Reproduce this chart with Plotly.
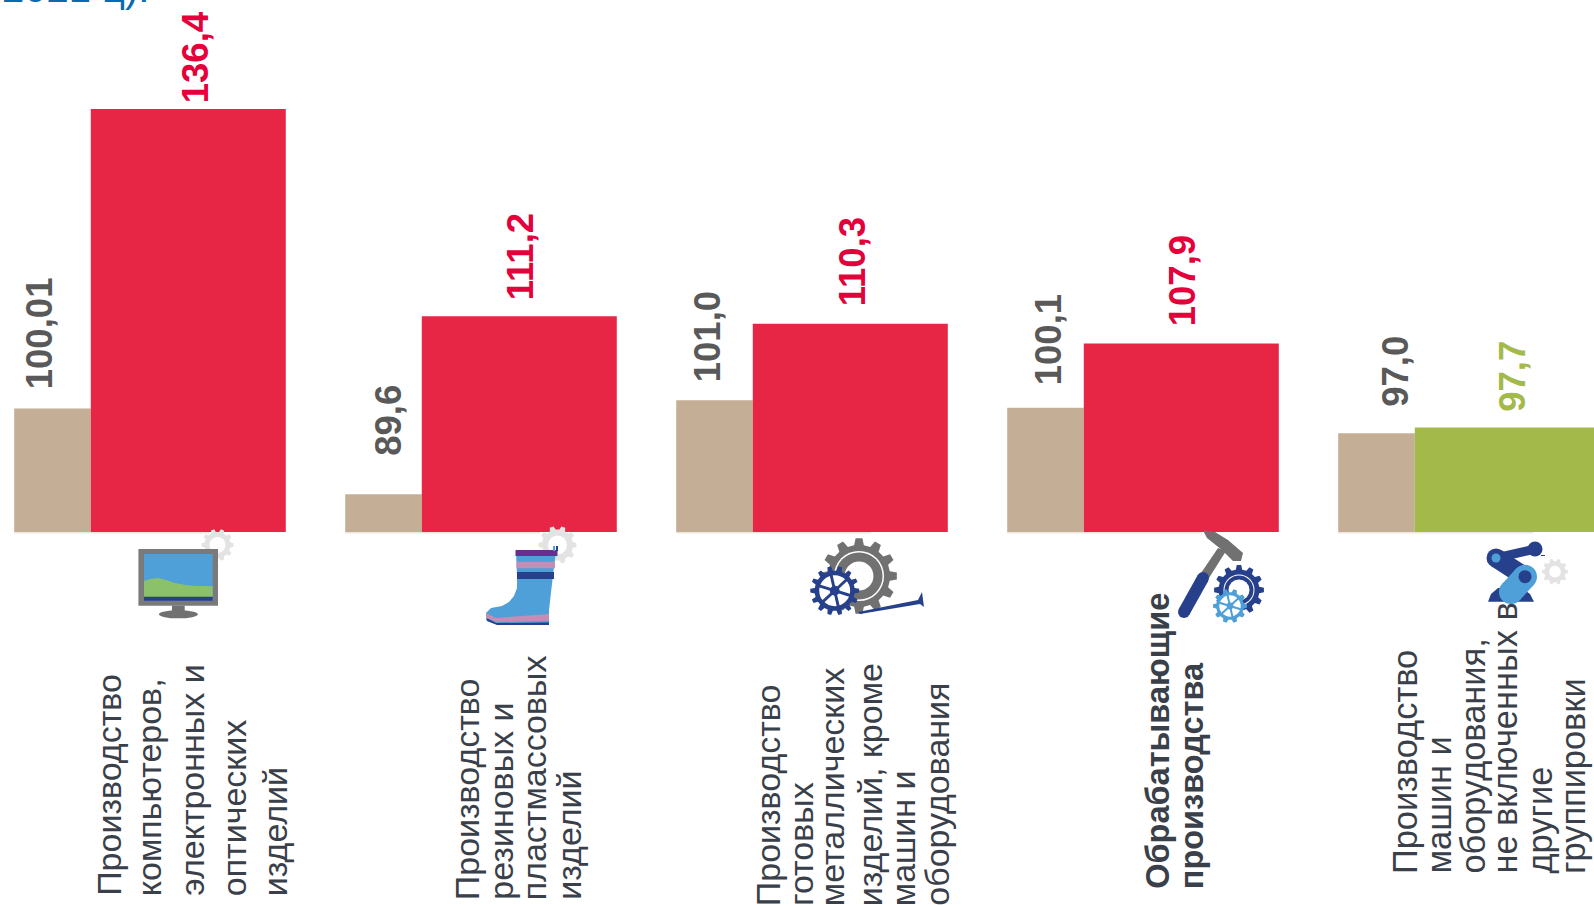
import math
import plotly.graph_objects as go

W, H = 1594, 905
group_index = [0, 1, 2, 3, 4]
prev_values = [100.01, 89.6, 101.0, 100.1, 97.0]
curr_values = [136.4, 111.2, 110.3, 107.9, 97.7]
prev_labels = ["100,01", "89,6", "101,0", "100,1", "97,0"]
curr_labels = ["136,4", "111,2", "110,3", "107,9", "97,7"]
category_lines = [
    ["Производство", "компьютеров,", "электронных и", "оптических", "изделий"],
    ["Производство", "резиновых и", "пластмассовых", "изделий"],
    ["Производство", "готовых", "металлических", "изделий, кроме", "машин и", "оборудования"],
    ["Обрабатывающие", "производства"],
    ["Производство", "машин и", "оборудования,", "не включенных в", "другие", "группировки"],
]

BASE = 85
PERIOD, START = 331.0, 14.2
TAN_W, BAR_W = 76.6, 195.0
Y_SCALE = 8.23
RED, GREEN, TAN = "#E72646", "#A3BA4A", "#C5AE96"
NAVY, SKY, GREY, PALE = "#27408B", "#4F9FD8", "#717171", "#E3E3E3"

curr_colors = [GREEN if v < 100 else RED for v in curr_values]
curr_text = ["#A3BA4A" if v < 100 else "#E4003A" for v in curr_values]


def X(px):
    return px / W


def Y(py):
    return 1 - py / H


def poly(points, fill, curved=False):
    p = "M " + " L ".join(f"{X(a):.5f},{Y(b):.5f}" for a, b in points) + " Z"
    return dict(type="path", xref="paper", yref="paper", path=p, fillcolor=fill,
                line=dict(width=0), layer="above")


def rect(x0, y0, x1, y1, fill):
    return poly([(x0, y0), (x1, y0), (x1, y1), (x0, y1)], fill)


def ellipse(cx, cy, rx, ry, fill):
    return dict(type="circle", xref="paper", yref="paper", x0=X(cx - rx), x1=X(cx + rx),
                y0=Y(cy + ry), y1=Y(cy - ry), fillcolor=fill, line=dict(width=0), layer="above")


def gear(cx, cy, r, teeth, fill, hole=0.45, ring=None, spokes=False):
    pts = []
    for i in range(teeth):
        a = 2 * math.pi * i / teeth
        s = 2 * math.pi / teeth
        for off, rad in [(-0.30, 0.82), (-0.17, 1.0), (0.17, 1.0), (0.30, 0.82)]:
            pts.append((cx + r * rad * math.cos(a + off * s), cy + r * rad * math.sin(a + off * s)))
    out = [poly(pts, fill)]
    if ring:
        out += [ellipse(cx, cy, r * ring, r * ring, "white"), ellipse(cx, cy, r * (ring - .04), r * (ring - .04), fill)]
    out.append(ellipse(cx, cy, r * hole, r * hole, "white"))
    if spokes:
        out.append(ellipse(cx, cy, r * 0.63, r * 0.63, "white"))
        for i in range(6):
            a = math.pi * i / 3 + .3
            dx, dy = math.cos(a), math.sin(a)
            nx, ny = -dy * r * .06, dx * r * .06
            out.append(poly([(cx + nx, cy + ny), (cx + dx * r * .7 + nx, cy + dy * r * .7 + ny),
                             (cx + dx * r * .7 - nx, cy + dy * r * .7 - ny), (cx - nx, cy - ny)], fill))
        out.append(ellipse(cx, cy, r * .2, r * .2, fill))
    return out


def capsule(x0, y0, x1, y1, w, fill):
    d = math.hypot(x1 - x0, y1 - y0)
    nx, ny = -(y1 - y0) / d * w / 2, (x1 - x0) / d * w / 2
    return [poly([(x0 + nx, y0 + ny), (x1 + nx, y1 + ny), (x1 - nx, y1 - ny), (x0 - nx, y0 - ny)], fill),
            ellipse(x0, y0, w / 2, w / 2, fill), ellipse(x1, y1, w / 2, w / 2, fill)]


shapes = []
# faint rule under each group
for i in group_index:
    x0 = START + i * PERIOD
    shapes.append(rect(x0, 532, x0 + 195, 533.5, "#EDE6DE"))

# monitor
shapes += gear(217.5, 545, 16, 10, PALE, hole=.5)
shapes += [rect(138.4, 549, 218, 605.7, "#7A7A7A"), rect(144, 554, 212.7, 600.7, SKY),
           poly([(144, 581), (150, 579), (158, 578), (166, 580), (175, 583), (186, 585), (196, 586),
                 (212.7, 586), (212.7, 597), (144, 597)], "#8BC16B"),
           rect(144, 596.7, 212.7, 600.7, NAVY), rect(172, 605.7, 184.7, 613, GREY),
           ellipse(178.4, 614.3, 19.5, 4, GREY)]

# boot
shapes += gear(557.5, 545, 19, 10, PALE, hole=.5)
shapes += [poly([(516, 551), (517, 575), (517, 588), (514, 596), (509, 602), (502, 606), (491, 608), (486, 613),
                 (486, 620), (495, 624), (549, 624), (549, 610), (553, 575), (556, 551)], SKY),
           poly([(487, 618), (496, 623), (549, 622.5), (549, 625), (497, 625), (487, 621)], NAVY),
           poly([(486, 613), (496, 618), (549, 614), (549, 621), (497, 622), (486, 618)], "#C48DB5"),
           rect(516.5, 561.7, 555, 568.3, "#C48DB5"), rect(517, 572, 554, 579, NAVY),
           rect(515.5, 550, 557.5, 556, "#6A2C91"),
           rect(553, 546, 555, 551, SKY), rect(556, 546, 558, 551, NAVY)]

# gears and wrench
shapes += gear(859, 576, 38, 12, GREY, hole=.38, ring=.66)
shapes += [poly([(858, 612), (918, 600), (922, 592), (924, 607), (920, 604), (860, 614)], NAVY)]
shapes += gear(834.7, 590.7, 24.5, 14, NAVY, hole=.3, spokes=True)

# hammer and gears
shapes += [poly([(1203, 530.5), (1215, 532), (1228, 540), (1243, 553), (1241, 561), (1233, 561), (1222, 550),
                 (1207, 538)], GREY),
           poly([(1218, 548), (1226, 551), (1209, 578), (1199, 576)], GREY)]
shapes += capsule(1203, 578, 1184, 612, 12, NAVY)
shapes += gear(1239, 590, 25, 12, NAVY, hole=.42, ring=.62)
shapes += gear(1230, 606, 17, 10, SKY, hole=.25, spokes=True)

# robot arm
shapes += [poly([(1488, 601.7), (1491, 594), (1498, 588), (1510, 587), (1522, 588), (1530, 594), (1534, 601.7)], NAVY)]
shapes += capsule(1496, 558, 1535, 549, 9, NAVY)
shapes += capsule(1496, 558, 1525, 576.7, 19, NAVY)
shapes += capsule(1511, 592, 1525, 576.7, 24, SKY)
shapes += [ellipse(1535, 549, 7.5, 7.5, NAVY), ellipse(1496, 558, 4.5, 4.5, SKY), ellipse(1525, 576.7, 6.5, 6.5, NAVY),
           rect(1541, 555, 1545, 556, NAVY)]
shapes += gear(1555, 571.7, 13, 10, PALE, hole=.45)

fig = go.Figure()
fig.add_bar(x=group_index, y=[v - BASE for v in prev_values], base=BASE, offset=0,
            width=TAN_W / PERIOD, marker=dict(color=TAN, line=dict(width=0)), showlegend=False)
fig.add_bar(x=group_index, y=[v - BASE for v in curr_values], base=BASE, offset=TAN_W / PERIOD,
            width=BAR_W / PERIOD, marker=dict(color=curr_colors, line=dict(width=0)), showlegend=False)

annotations = []


def rotated(text, baseline_x, bottom_y, size, color, bold=False):
    t = f"<b>{text}</b>" if bold else text
    annotations.append(dict(text=t, textangle=-90, xref="paper", yref="paper",
                            x=X(baseline_x - size * 0.3465), y=Y(bottom_y),
                            xanchor="center", yanchor="bottom", showarrow=False,
                            font=dict(family="Liberation Sans", size=size, color=color)))


VAL = 36.6
prev_pos = [(52, 391), (401, 458), (720, 384), (1062, 387), (1408, 409)]
curr_pos = [(208, 105), (533, 302), (865, 308), (1196, 328), (1525, 414)]
for lab, (x, y) in zip(prev_labels, prev_pos):
    rotated(lab, x, y, VAL, "#595959", True)
for lab, col, (x, y) in zip(curr_labels, curr_text, curr_pos):
    rotated(lab, x, y, VAL, col, True)

cat_style = [
    dict(xs=[120.6, 161, 203, 246, 286.5], bottom=898, size=34, bold=False),
    dict(xs=[479, 512, 545.6, 580], bottom=902, size=34, bold=False),
    dict(xs=[780, 812, 844, 881.5, 915, 948], bottom=908, size=34, bold=False),
    dict(xs=[1169, 1203], bottom=891, size=32.5, bold=True),
    dict(xs=[1417, 1450, 1484, 1516, 1551, 1585], bottom=876, size=34.4, bold=False),
]
for lines, st in zip(category_lines, cat_style):
    for line, x in zip(lines, st["xs"]):
        rotated(line, x, st["bottom"], st["size"], "#3A4049", st["bold"])

annotations.append(dict(text="2021 ц).", xref="paper", yref="paper", x=0, y=Y(11.5), xanchor="left", yanchor="bottom",
                        showarrow=False, font=dict(family="Liberation Sans", size=40, color="#0A6AAE")))

fig.update_layout(
    width=W, height=H, margin=dict(l=0, r=0, t=0, b=0, pad=0), autosize=False,
    paper_bgcolor="white", plot_bgcolor="white", barmode="overlay",
    xaxis=dict(range=[-START / PERIOD, (W - START) / PERIOD], visible=False, fixedrange=True),
    yaxis=dict(range=[BASE - (H - 532) / Y_SCALE, BASE + 532 / Y_SCALE], visible=False, fixedrange=True),
    shapes=shapes, annotations=annotations,
)
fig.write_html("out.html", config=dict(displayModeBar=False),
               post_script="document.documentElement.style.margin='0';document.body.style.margin='0';document.body.style.overflow='hidden';")
